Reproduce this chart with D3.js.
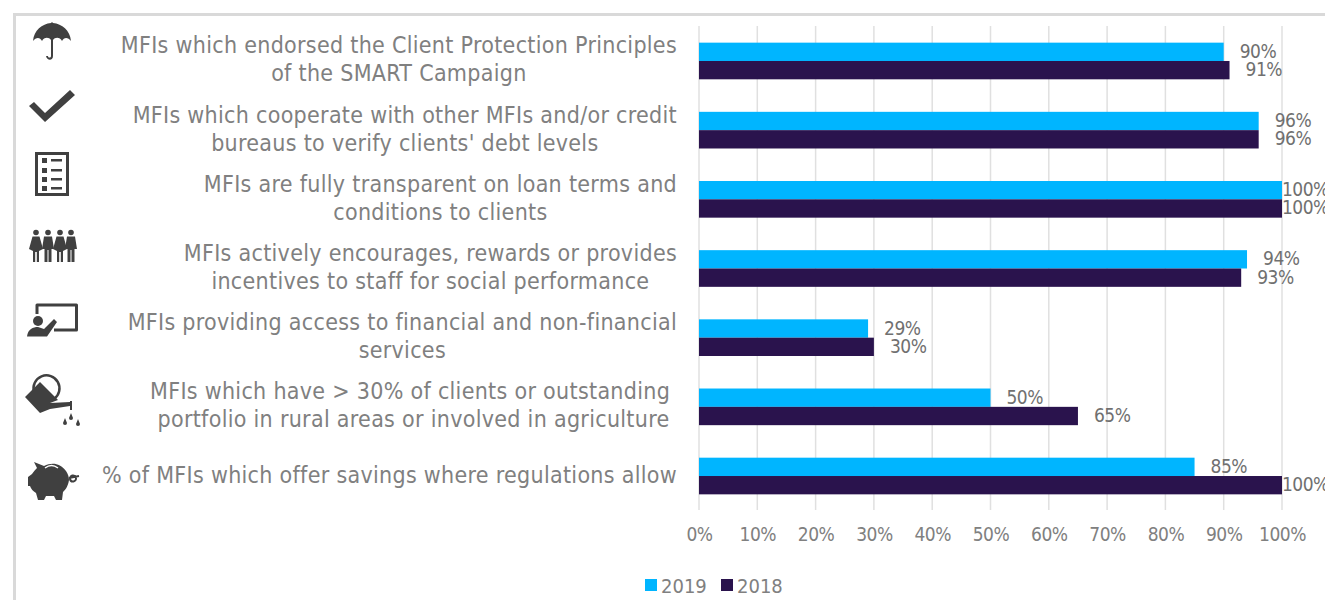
<!DOCTYPE html>
<html><head><meta charset="utf-8">
<script src="https://cdn.jsdelivr.net/npm/d3@7/dist/d3.min.js"></script>
<style>html,body{margin:0;padding:0;background:#fff;overflow:hidden}svg{display:block}text{font-family:"DejaVu Sans Condensed","DejaVu Sans",sans-serif}</style>
</head><body><svg id="c" width="1325" height="600"></svg>
<script>
const categoryLines = [
 ["MFIs which endorsed the Client Protection Principles","of the SMART Campaign"],
 ["MFIs which cooperate with other MFIs and/or credit","bureaus to verify clients' debt levels"],
 ["MFIs are fully transparent on loan terms and","conditions to clients"],
 ["MFIs actively encourages, rewards or provides","incentives to staff for social performance"],
 ["MFIs providing access to financial and non-financial","services"],
 ["MFIs which have > 30% of clients or outstanding ","portfolio in rural areas or involved in agriculture"],
 ["% of MFIs which offer savings where regulations allow"]
];
const values2019 = [90,96,100,94,29,50,85];
const values2018 = [91,96,100,93,30,65,100];
const xTicks = [0,10,20,30,40,50,60,70,80,90,100];
const seriesNames = ["2019","2018"];
const colors = {"2019":"#00b5ff","2018":"#2a134d"};

const svg = d3.select("#c");
const x = d3.scaleLinear().domain([0,100]).range([699,1282]);
const y = d3.scaleBand().domain(d3.range(categoryLines.length)).range([26.4,510.6]).paddingInner(0.47).paddingOuter(0.235);
const sub = d3.scaleBand().domain(seriesNames).range([0,y.bandwidth()]);

svg.append("path").attr("d","M14.5,600V14.5H1325").attr("fill","none").attr("stroke","#d9d9d9").attr("stroke-width",3);

svg.append("g").selectAll("line").data(xTicks).join("line")
 .attr("x1",d=>x(d)).attr("x2",d=>x(d)).attr("y1",26).attr("y2",510)
 .attr("stroke","#e0e0e0").attr("stroke-width",1.5);

const axis = d3.axisBottom(x).tickValues(xTicks).tickFormat(d=>d+"%").tickSize(0).tickPadding(0);
const ax = svg.append("g").attr("transform","translate(0,527)").call(axis);
ax.select(".domain").remove();
ax.selectAll("text").attr("font-size",19).attr("letter-spacing",-0.5).attr("fill","#808080").attr("dy","0.71em").attr("y",0).style("font-family","'DejaVu Sans Condensed',sans-serif");

seriesNames.forEach((s,i)=>{
 const vals = i===0?values2019:values2018;
 svg.append("g").selectAll("rect").data(vals).join("rect")
  .attr("x",x(0)).attr("y",(d,k)=>y(k)+sub(s)).attr("width",d=>x(d)-x(0)).attr("height",sub.bandwidth())
  .attr("fill",colors[s]);
 svg.append("g").selectAll("text").data(vals).join("text")
  .attr("x",d=>Math.min(x(d)+16,x(100))).attr("y",(d,k)=>y(k)+sub(s)+sub.bandwidth()/2+6)
  .attr("font-size",19).attr("letter-spacing",-0.5).attr("fill","#707070").text(d=>d+"%");
});

const lab = svg.append("g");
categoryLines.forEach((lines,k)=>{
 const g = lab.append("g");
 const cy = y(k)+y.bandwidth()/2;
 const ts = lines.map((l,j)=>g.append("text").attr("font-size",23).attr("letter-spacing",0.3).attr("fill","#808080").attr("text-anchor","middle")
   .attr("xml:space","preserve")
   .attr("y",cy+(lines.length===1?6.5:(j===0?-7.5:20.5))).text(l));
 const w = Math.max(...ts.map(t=>t.node().getComputedTextLength()));
 ts.forEach(t=>t.attr("x",677-w/2));
});

// Legend
const lg = svg.append("g");
[[645,"2019"],[721,"2018"]].forEach(([lx,s])=>{
 lg.append("rect").attr("x",lx).attr("y",579).attr("width",12).attr("height",12).attr("fill",colors[s]);
 lg.append("text").attr("x",lx+16).attr("y",593).attr("font-size",20).attr("fill","#808080").text(s);
});

// Icons (decorative)
const ic = svg.append("g").attr("fill","#404040");
// umbrella
ic.append("path").attr("d","M33,41C34,30 42,24 51,23V22.5H53V23C62,24 70,30 71,41C68,37 64,37 62,41C60,37 55,37 53,40V56C53,61 47,61 46,56L48,56C48,58 51,58 51,56V40C49,37 44,37 42,41C40,37 36,37 33,41Z");
// check
ic.append("path").attr("d","M29,106L34,102L45,113L70,90L75,95L45,122Z");
// list
ic.append("path").attr("fill-rule","evenodd").attr("d","M35,152H69V196H35ZM38,155V193H66V155Z");
[158,168,177,186].forEach(py=>{
 ic.append("rect").attr("x",42).attr("y",py).attr("width",5).attr("height",5);
 ic.append("rect").attr("x",51).attr("y",py+1).attr("width",11).attr("height",2.5);
});
// people
[36,48,60,71].forEach((px,i)=>{
 ic.append("circle").attr("cx",px).attr("cy",232.5).attr("r",2.8);
 ic.append("path").attr("d",i%2===0
   ?`M${px-3.5},236.5H${px+3.5}L${px+7},249L${px+3},251V262H${px+.8}V252H${px-.8}V262H${px-3}V251L${px-7},249Z`
   :`M${px-4},236.5H${px+4}L${px+6},249H${px+3.5}V262H${px+.5}V250H${px-.5}V262H${px-3.5}V249H${px-6}Z`);
});
// teacher
ic.append("path").attr("fill","none").attr("stroke","#404040").attr("stroke-width",3).attr("stroke-linejoin","round").attr("d","M37,314V305H76.5V330H54");
ic.append("circle").attr("cx",38).attr("cy",321).attr("r",5);
ic.append("path").attr("d","M27,336.5C28,329 33,327 38,327L44,329L54,319L57,322L47,336.5Z");
// watering can
ic.append("path").attr("fill","none").attr("stroke","#404040").attr("stroke-width",2.5).attr("d","M34,392A13,13 0 1 1 54,399");
ic.append("path").attr("d","M25,397L40,382L58,400L50,403L70,402V401H72V410H70V406L50,409L40,413Z");
[[71,416],[65,421],[78,422]].forEach(([a,b])=>ic.append("path").attr("d",`M${a},${b-3}L${a+2},${b+2}A2,2 0 1 1 ${a-2},${b+2}Z`));
// piggy
ic.append("path").attr("d","M34,462L44,466C52,462 60,463 66,471C68,474 69,477 69,480C68,487 65,490 63,492L62,500H56L54,496H46L44,500H38L36,493C33,491 31,489 30,486H28V477L32,474C34,471 36,469 37,468Z");
ic.append("path").attr("fill","none").attr("stroke","#404040").attr("stroke-width",2).attr("d","M69,478L79,476M70,479A3,3 0 1 0 76,478A3,3 0 1 0 70,479");
ic.append("path").attr("fill","none").attr("stroke","#fff").attr("stroke-width",1.5).attr("d","M45,468C49,465 54,465 58,468");
</script></body></html>
